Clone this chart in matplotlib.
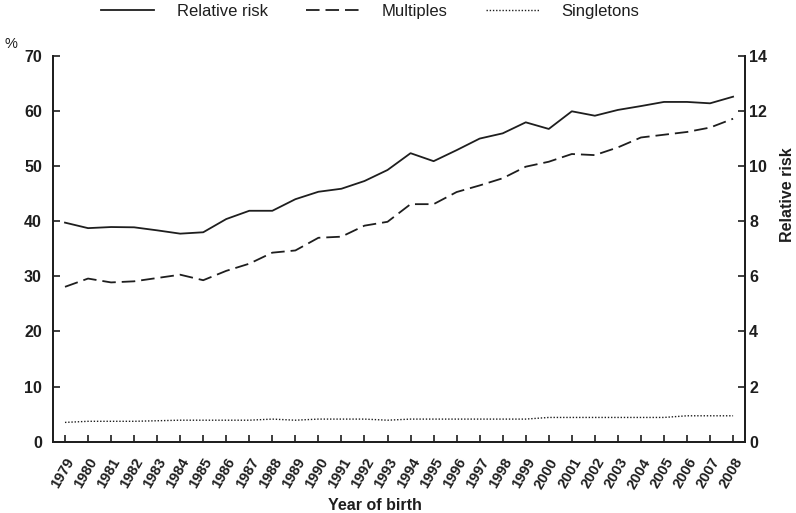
import matplotlib
matplotlib.use("Agg")
import matplotlib.pyplot as plt
from matplotlib.lines import Line2D

plt.rcParams['font.family'] = ['Liberation Sans', 'DejaVu Sans']

# Data
years = list(range(1979, 2009))
relative_risk = [7.95, 7.75, 7.79, 7.78, 7.67, 7.55, 7.60, 8.08, 8.38, 8.38,
                 8.80, 9.07, 9.18, 9.46, 9.86, 10.47, 10.18, 10.58, 11.00, 11.19,
                 11.59, 11.35, 11.99, 11.83, 12.04, 12.18, 12.33, 12.33, 12.28, 12.52]
multiples = [28.1, 29.6, 28.9, 29.1, 29.7, 30.3, 29.3, 31.0, 32.3, 34.3,
             34.7, 37.0, 37.2, 39.2, 39.9, 43.1, 43.1, 45.3, 46.5, 47.8,
             49.9, 50.8, 52.2, 52.0, 53.4, 55.2, 55.7, 56.2, 57.0, 58.6]
singletons = [3.5, 3.7, 3.7, 3.7, 3.8, 3.9, 3.9, 3.9, 3.9, 4.1,
              3.9, 4.1, 4.1, 4.1, 3.9, 4.1, 4.1, 4.1, 4.1, 4.1,
              4.1, 4.4, 4.4, 4.4, 4.4, 4.4, 4.4, 4.7, 4.7, 4.7]

ink = '#1e1e1e'
dash_style = (0, (7.5, 3.3))
dot_style = (0, (1, 1.3))

fig = plt.figure(figsize=(7.96, 5.13), dpi=100)
ax = fig.add_axes([0.0666, 0.139, 0.8694, 0.752])
ax2 = ax.twinx()

ax.plot(years, multiples, color=ink, lw=1.3, linestyle=dash_style)
ax.plot(years, singletons, color=ink, lw=1.0, linestyle=dot_style)
ax2.plot(years, relative_risk, color=ink, lw=1.3)

ax.set_xlim(1978.48, 2008.52)
ax.set_ylim(0, 70)
ax2.set_ylim(0, 14)
ax.set_yticks(range(0, 71, 10))
ax2.set_yticks(range(0, 15, 2))
ax.set_xticks(years)
ax.set_xticklabels([str(y) for y in years], rotation=60, ha='right',
                   rotation_mode='anchor', fontsize=10.5, fontweight='bold')

for a in (ax, ax2):
    a.spines['top'].set_visible(False)
    for s in a.spines.values():
        s.set_linewidth(1.3)
        s.set_color(ink)
    a.tick_params(direction='in', length=5, width=1.2, color=ink,
                  labelsize=11.5, labelcolor=ink)
ax.tick_params(axis='y', pad=8)
ax2.tick_params(axis='y', pad=3)
ax.tick_params(axis='x', pad=10, labelsize=10.5)
for lab in ax.get_yticklabels() + ax2.get_yticklabels():
    lab.set_fontweight('bold')

fig.text(375 / 796, 1 - 505 / 513, "Year of birth", fontsize=11.5,
         fontweight='bold', color=ink, ha='center', va='center')
fig.text(787 / 796, 1 - 195 / 513, "Relative risk", fontsize=11.5,
         fontweight='bold', color=ink, ha='center', va='center', rotation=90)
fig.text(0.006, 0.914, "%", fontsize=10.5, color=ink, va='center')

handles = [Line2D([], [], color=ink, lw=1.3),
           Line2D([], [], color=ink, lw=1.3, linestyle=dash_style),
           Line2D([], [], color=ink, lw=1.0, linestyle=dot_style)]
fig.legend(handles, ["Relative risk", "Multiples", "Singletons"],
           loc='center', bbox_to_anchor=(0.465, 0.978), ncol=3, frameon=False,
           fontsize=12, handlelength=3.2, columnspacing=2.3, handletextpad=1.35,
           labelcolor=ink)

fig.savefig("out.png", dpi=100)
